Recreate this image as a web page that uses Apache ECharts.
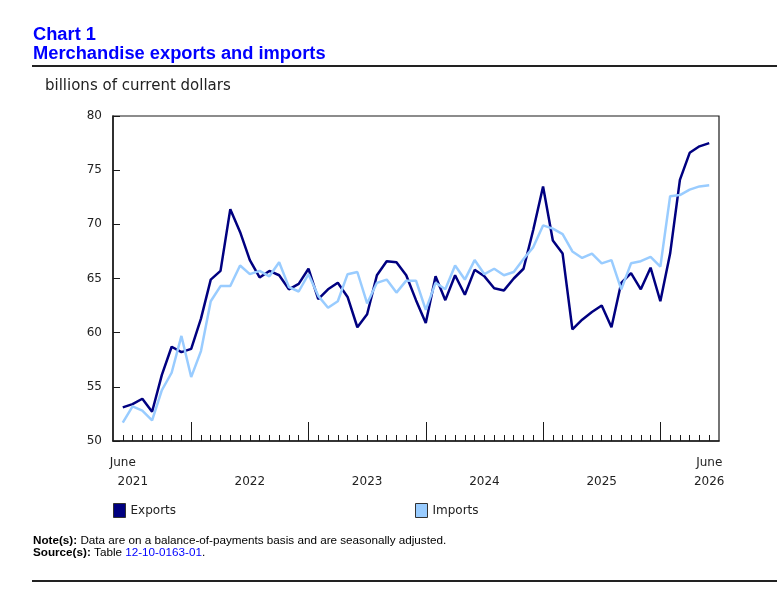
<!DOCTYPE html>
<html>
<head>
<meta charset="utf-8">
<script src="https://cdn.jsdelivr.net/npm/echarts@6/dist/echarts.min.js"></script>
<style>
	html, body { margin: 0; padding: 0; background: #fff; }
	#chart { width: 777px; height: 589px; }
</style>
</head>
<body>
<div id="chart"></div>
<script>
	// monthly values, June 2021 .. June 2026 (billions of current dollars)
	const exports = [53.1, 53.4, 53.9, 52.7, 56.1, 58.7, 58.2, 58.5, 61.3, 64.9,
		65.7, 71.4, 69.3, 66.7, 65.1, 65.7, 65.3, 64.0, 64.5, 65.9,
		63.1, 64.0, 64.6, 63.3, 60.5, 61.7, 65.3, 66.6, 66.5, 65.3,
		63.0, 60.9, 65.2, 63.0, 65.3, 63.5, 65.8, 65.2, 64.1, 63.9,
		65.0, 65.9, 69.5, 73.5, 68.5, 67.3, 60.3, 61.2, 61.9, 62.5,
		60.5, 64.6, 65.5, 64.0, 66.0, 62.9, 67.3, 74.1, 76.6, 77.2, 77.5]
	const imports = [51.7, 53.2, 52.8, 51.9, 54.7, 56.3, 59.7, 55.9, 58.3, 62.9,
		64.3, 64.3, 66.2, 65.4, 65.7, 65.2, 66.5, 64.2, 63.8, 65.4,
		63.4, 62.3, 62.9, 65.4, 65.6, 62.7, 64.6, 64.9, 63.7, 64.8,
		64.8, 62.1, 64.6, 64.0, 66.2, 64.9, 66.7, 65.4, 65.9, 65.3,
		65.6, 66.8, 67.9, 69.9, 69.6, 69.1, 67.5, 66.9, 67.3, 66.4,
		66.7, 64.0, 66.4, 66.6, 67.0, 66.1, 72.6, 72.7, 73.2, 73.5, 73.6]

	// x labels: index into the data (0 = June 2021) and text
	// {s|} = year sits a little right of "June" on the first label
	const xLabelIndex = [0, 13, 25, 37, 49, 60]
	const xLabelText = ['June\n{s|2021}', '\n2022', '\n2023', '\n2024', '\n2025', 'June\n2026']
	// january of each year -> long ticks
	const januaryIndex = [7, 19, 31, 43, 55]

	const yTicks = [50, 55, 60, 65, 70, 75, 80]

	const startYear = 2021
	const startMonth = 5 // June, 0-based
	/**
	 * categories: one empty month before and after the data
	 */
	const categories = []
	for (let i = -1; i <= exports.length; i++) {
		const m = startMonth + i
		const y = startYear + Math.floor(m / 12)
		categories.push(y + '-' + String(((m % 12) + 12) % 12 + 1).padStart(2, '0'))
	}
	const pad = arr => [null].concat(arr, [null])

	const labelMap = {}
	xLabelIndex.forEach((idx, k) => { labelMap[idx + 1] = xLabelText[k] })
	const janSet = new Set(januaryIndex.map(i => i + 1))

	const axisColor = '#1a1a1a'
	const textColor = '#222'
	const font = 'DejaVu Sans'
	const noteFont = 'Liberation Sans'

	const chart = echarts.init(document.getElementById('chart'), null, { renderer: 'canvas' })
	chart.setOption({
		animation: false,
		backgroundColor: '#fff',
		title: [
			{
				text: 'Chart 1\nMerchandise exports and imports',
				left: 33, top: 25, padding: 0,
				textStyle: { color: '#0000ff', fontFamily: noteFont, fontWeight: 'bold', fontSize: 18.3, lineHeight: 19 }
			},
			{
				text: 'billions of current dollars',
				left: 45, top: 79, padding: 0,
				textStyle: { color: textColor, fontFamily: font, fontWeight: 'normal', fontSize: 15 }
			},
			{
				text: '{b|Note(s):} Data are on a balance-of-payments basis and are seasonally adjusted.\n{b|Source(s):} Table {a|12-10-0163-01}.',
				left: 33, top: 535, padding: 0,
				textStyle: {
					color: '#000', fontFamily: noteFont, fontWeight: 'normal', fontSize: 11.7, lineHeight: 12,
					rich: {
						b: { fontWeight: 'bold', fontFamily: noteFont, fontSize: 11.7, color: '#000' },
						a: { color: '#0000ff', fontFamily: noteFont, fontSize: 11.7 }
					}
				}
			}
		],
		graphic: [
			{ type: 'line', shape: { x1: 32, y1: 66, x2: 777, y2: 66 }, style: { stroke: '#222', lineWidth: 2 } },
			{ type: 'line', shape: { x1: 32, y1: 581, x2: 777, y2: 581 }, style: { stroke: '#222', lineWidth: 2 } }
		],
		legend: [
			{
				data: ['Exports'], left: 113, top: 503, padding: 0, icon: 'rect', itemWidth: 12, itemHeight: 14, itemGap: 5,
				textStyle: { color: textColor, fontFamily: font, fontSize: 12 },
				itemStyle: { borderColor: '#333', borderWidth: 1 }
			},
			{
				data: ['Imports'], left: 415, top: 503, padding: 0, icon: 'rect', itemWidth: 12, itemHeight: 14, itemGap: 5,
				textStyle: { color: textColor, fontFamily: font, fontSize: 12 },
				itemStyle: { borderColor: '#333', borderWidth: 1 }
			}
		],
		grid: {
			left: 113, right: 58, top: 116, bottom: 148,
			show: true, borderColor: axisColor, borderWidth: 1.2, backgroundColor: 'transparent'
		},
		xAxis: [
			{
				type: 'category', data: categories, boundaryGap: false, position: 'bottom',
				axisLine: { show: true, lineStyle: { color: axisColor, width: 1.5 } },
				axisTick: {
					show: true, inside: true, length: 6,
					interval: idx => idx > 0 && idx < categories.length - 1,
					lineStyle: { color: axisColor, width: 1 }
				},
				axisLabel: {
					interval: idx => labelMap[idx] !== undefined,
					formatter: (val, idx) => labelMap[idx] || '',
					showMinLabel: true, showMaxLabel: true, hideOverlap: false,
					color: textColor, fontFamily: font, fontSize: 12, lineHeight: 19, margin: 12,
					rich: {
						s: { color: textColor, fontFamily: font, fontSize: 12, lineHeight: 19, padding: [0, 0, 0, 20] }
					}
				},
				splitLine: { show: false }
			},
			{
				type: 'category', data: categories, boundaryGap: false, position: 'bottom',
				axisLine: { show: false },
				axisTick: {
					show: true, inside: true, length: 19,
					interval: idx => janSet.has(idx),
					lineStyle: { color: axisColor, width: 1 }
				},
				axisLabel: { show: false },
				splitLine: { show: false }
			}
		],
		yAxis: {
			type: 'value', min: yTicks[0], max: yTicks[yTicks.length - 1], interval: yTicks[1] - yTicks[0],
			axisLine: { show: true, lineStyle: { color: axisColor, width: 1.5 } },
			axisTick: { show: true, inside: true, length: 7, lineStyle: { color: axisColor, width: 1 } },
			axisLabel: { color: textColor, fontFamily: font, fontSize: 12, margin: 11 },
			splitLine: { show: false }
		},
		series: [
			{
				name: 'Exports', type: 'line', data: pad(exports), showSymbol: false, symbol: 'none',
				lineStyle: { color: '#000080', width: 2.5 }, itemStyle: { color: '#000080' }
			},
			{
				name: 'Imports', type: 'line', data: pad(imports), showSymbol: false, symbol: 'none',
				lineStyle: { color: '#99ccff', width: 2.5 }, itemStyle: { color: '#99ccff' }
			}
		]
	})
</script>
</body>
</html>
